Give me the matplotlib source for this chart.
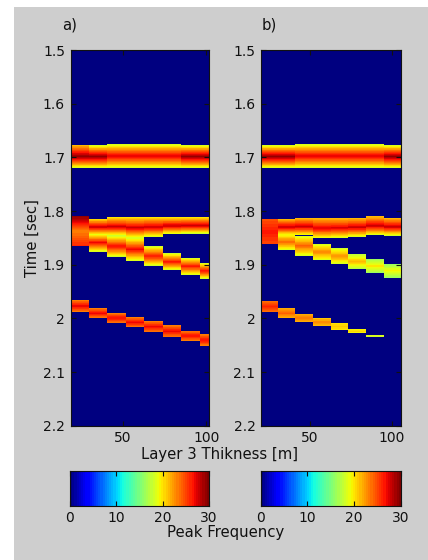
import numpy as np
import matplotlib
matplotlib.use('Agg')
import matplotlib.pyplot as plt
from matplotlib.patches import Rectangle

nan = np.nan

# ---------------- data ----------------
# column edges along "Layer 3 Thikness [m]"
edges_a = [19, 30, 41, 52, 63, 74, 85, 96, 101.5]
edges_b = [20, 30.5, 41, 52, 63, 73.5, 84, 95, 105.5]
xlim_a = (19, 101.5)
xlim_b = (20, 105.5)

# each band: per-column top time, bottom time, peak frequency at top / centre / bottom
a_band1_top = [1.677, 1.677, 1.675, 1.675, 1.675, 1.675, 1.677, 1.677]
a_band1_bot = [1.720, 1.720, 1.720, 1.720, 1.720, 1.720, 1.720, 1.720]
a_band1_vtop = [21, 18, 18, 18, 18, 18, 18, 18]
a_band1_vmid = [29.5, 29.5, 27.5, 27.5, 27.5, 27.5, 29.5, 29.5]
a_band1_vbot = [18, 18, 18, 18, 18, 18, 18, 18]

a_band2_top = [1.810, 1.815, 1.812, 1.812, 1.812, 1.812, 1.812, 1.812]
a_band2_bot = [1.865, 1.845, 1.846, 1.850, 1.848, 1.843, 1.842, 1.842]
a_band2_vtop = [29.5, 20, 20, 20, 20, 20, 20, 20]
a_band2_vmid = [23, 28, 28, 28, 28, 28, 28, 28]
a_band2_vbot = [26, 18, 18, 18, 18, 18, 18, 18]

a_band3_top = [nan, 1.842, 1.846, 1.850, 1.866, 1.879, 1.887, 1.897]
a_band3_bot = [nan, 1.876, 1.885, 1.893, 1.902, 1.910, 1.919, 1.926]
a_band3_vtop = [nan, 18, 18, 18, 18, 18, 18, 18]
a_band3_vmid = [nan, 27, 27, 27, 26.5, 26.5, 26.5, 27]
a_band3_vbot = [nan, 18, 18, 18, 18, 18, 18, 18]

a_band4_top = [1.9655, 1.981, 1.990, 1.998, 2.005, 2.013, 2.023, 2.030]
a_band4_bot = [1.9885, 2.000, 2.009, 2.017, 2.026, 2.035, 2.042, 2.051]
a_band4_vtop = [23, 23, 23, 23, 23, 23, 23, 23]
a_band4_vmid = [27, 27, 27, 27, 27, 27, 27, 27]
a_band4_vbot = [23, 23, 23, 23, 23, 23, 23, 23]

b_band1_top = [1.677, 1.677, 1.675, 1.675, 1.675, 1.675, 1.675, 1.677]
b_band1_bot = [1.720, 1.720, 1.720, 1.720, 1.720, 1.720, 1.720, 1.720]
b_band1_vtop = [18, 18, 18, 18, 18, 18, 18, 18]
b_band1_vmid = [29.5, 29.5, 27.5, 27.5, 27.5, 27.5, 27.5, 29.5]
b_band1_vbot = [18, 18, 18, 18, 18, 18, 18, 18]

b_band2_top = [1.815, 1.815, 1.813, 1.813, 1.813, 1.813, 1.810, 1.813]
b_band2_bot = [1.861, 1.845, 1.845, 1.851, 1.850, 1.848, 1.845, 1.846]
b_band2_vtop = [24.5, 21, 21, 21, 21, 21, 21, 21]
b_band2_vmid = [26.5, 28, 28, 27.5, 27.5, 28, 28, 28]
b_band2_vbot = [25, 18.5, 18.5, 18, 18, 18, 18, 18]

b_band3_top = [nan, 1.843, 1.846, 1.862, 1.869, 1.880, 1.889, 1.899]
b_band3_bot = [nan, 1.872, 1.883, 1.891, 1.899, 1.908, 1.916, 1.924]
b_band3_vtop = [nan, 18.5, 18, 18.5, 18, 17, 16, 16]
b_band3_vmid = [nan, 24, 24, 23, 22.5, 21.5, 20, 19.5]
b_band3_vbot = [nan, 18.5, 18.5, 18.5, 18, 17, 16, 16]

b_band4_top = [1.967, 1.981, 1.992, 2.000, 2.008, 2.020, 2.031, nan]
b_band4_bot = [1.989, 2.000, 2.007, 2.015, 2.022, 2.028, 2.034, nan]
b_band4_vtop = [23.5, 21.5, 21.5, 21, 19.5, 19, 18, nan]
b_band4_vmid = [26, 24, 23.5, 23, 21, 20.5, 19.5, nan]
b_band4_vbot = [23.5, 21.5, 21.5, 21, 19.5, 19, 18, nan]

time_ticks = [1.5, 1.6, 1.7, 1.8, 1.9, 2.0, 2.1, 2.2]
time_labels = ['1.5', '1.6', '1.7', '1.8', '1.9', '2', '2.1', '2.2']
x_ticks = [50, 100]
cbar_ticks = [0, 10, 20, 30]

# ---------------- build grids ----------------
t_edges = np.arange(1.5, 2.2 + 1e-9, 0.0005)
t_cent = 0.5 * (t_edges[:-1] + t_edges[1:])


def band_grid(top, bot, vtop, vmid, vbot):
    ncol = len(top)
    Z = np.zeros((len(t_cent), ncol))
    for j in range(ncol):
        if np.isnan(top[j]):
            continue
        mid = 0.5 * (top[j] + bot[j])
        half = 0.5 * (bot[j] - top[j])
        u = np.abs(t_cent - mid) / half
        v = np.where(t_cent < mid, vmid[j] + (vtop[j] - vmid[j]) * u,
                     vmid[j] + (vbot[j] - vmid[j]) * u)
        v[(t_cent < top[j]) | (t_cent > bot[j])] = 0
        Z[:, j] = v
    return Z


Za = np.maximum.reduce([
    band_grid(a_band1_top, a_band1_bot, a_band1_vtop, a_band1_vmid, a_band1_vbot),
    band_grid(a_band2_top, a_band2_bot, a_band2_vtop, a_band2_vmid, a_band2_vbot),
    band_grid(a_band3_top, a_band3_bot, a_band3_vtop, a_band3_vmid, a_band3_vbot),
    band_grid(a_band4_top, a_band4_bot, a_band4_vtop, a_band4_vmid, a_band4_vbot),
])
Zb = np.maximum.reduce([
    band_grid(b_band1_top, b_band1_bot, b_band1_vtop, b_band1_vmid, b_band1_vbot),
    band_grid(b_band2_top, b_band2_bot, b_band2_vtop, b_band2_vmid, b_band2_vbot),
    band_grid(b_band3_top, b_band3_bot, b_band3_vtop, b_band3_vmid, b_band3_vbot),
    band_grid(b_band4_top, b_band4_bot, b_band4_vtop, b_band4_vmid, b_band4_vbot),
])

# ---------------- figure ----------------
W, H = 428, 560
plt.rcParams['font.family'] = ['DejaVu Sans']
fig = plt.figure(figsize=(W / 100, H / 100), dpi=100, facecolor='white')
bg = '#cecece'
fig.patches.append(Rectangle((14 / W, 0), 1 - 14 / W, 1 - 7 / H,
                             transform=fig.transFigure, facecolor=bg,
                             edgecolor='none', zorder=-10))

cmap = plt.get_cmap('jet', 64)
FS = 10
LFS = 10.7
TXT = '#111111'


def px_axes(left, top, right, bottom):
    return fig.add_axes([left / W, 1 - bottom / H, (right - left) / W, (bottom - top) / H])


def style(ax):
    for s in ax.spines.values():
        s.set_color(TXT)
        s.set_linewidth(0.8)
    ax.tick_params(direction='in', length=3.5, width=0.8, top=True, right=True,
                   labelsize=FS, colors=TXT, pad=4)


axa = px_axes(70.5, 50, 209, 425.7)
axb = px_axes(261, 50, 400.7, 425.7)

for ax, edges, Z, xl in [(axa, edges_a, Za, xlim_a), (axb, edges_b, Zb, xlim_b)]:
    ax.pcolormesh(edges, t_edges, Z, cmap=cmap, vmin=0, vmax=30, shading='flat',
                  antialiased=False, edgecolor='none', rasterized=True)
    ax.set_xlim(*xl)
    ax.set_ylim(2.2, 1.5)
    ax.set_yticks(time_ticks)
    ax.set_yticklabels(time_labels)
    ax.set_xticks(x_ticks)
    style(ax)

# panel labels
fig.text(62 / W, 1 - 25 / H, 'a)', fontsize=LFS, ha='left', va='center', color=TXT)
fig.text(262 / W, 1 - 25 / H, 'b)', fontsize=LFS, ha='left', va='center', color=TXT)

fig.text(32 / W, 1 - 238 / H, 'Time [sec]', rotation=90, fontsize=LFS,
         ha='center', va='center', color=TXT)
fig.text(220 / W, 1 - 454 / H, 'Layer 3 Thikness [m]', fontsize=LFS,
         ha='center', va='center', color=TXT)
fig.text(226 / W, 1 - 533 / H, 'Peak Frequency', fontsize=LFS,
         ha='center', va='center', color=TXT)

# colorbars
grad = np.linspace(0, 30, 65)
for (l, r) in [(70, 209), (260.7, 401)]:
    cax = px_axes(l, 471, r, 505.7)
    cax.pcolormesh(grad, [0, 1], 0.5 * (grad[:-1] + grad[1:])[None, :], cmap=cmap,
                   vmin=0, vmax=30, shading='flat', antialiased=False, edgecolor='none')
    cax.set_xlim(0, 30)
    cax.set_ylim(0, 1)
    cax.set_xticks(cbar_ticks)
    cax.set_yticks([])
    style(cax)
    cax.tick_params(right=False, left=False)

fig.savefig('out.png', dpi=100, facecolor=fig.get_facecolor())
